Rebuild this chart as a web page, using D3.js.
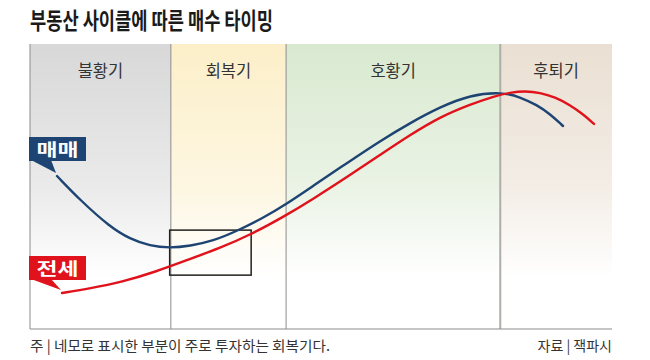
<!DOCTYPE html>
<html><head><meta charset="utf-8">
<script src="https://cdn.jsdelivr.net/npm/d3@7"></script>
<style>body{margin:0;background:#fff}svg{display:block}</style>
</head><body>
<script>
// ---- data ----
const title = "부동산 사이클에 따른 매수 타이밍";
const phases = ["불황기", "회복기", "호황기", "후퇴기"];
const phaseBounds = [0, 24.2, 44, 80.8, 100];
const phaseColors = ["#d8d8d8", "#fcefc9", "#d9e9d0", "#eadfd2"];
const saleT = [4.64, 8.59, 13.75, 17.18, 20.62, 24.05, 27.49, 31.44, 35.57, 40.03, 43.81, 48.63, 54.47, 60.14, 65.29, 70.45, 75.60, 81.10, 84.19, 87.11, 89.35, 91.58];
const saleV = [53.68, 45.26, 35.79, 31.58, 29.12, 28.42, 29.12, 30.88, 34.39, 38.95, 43.51, 50.18, 58.25, 65.96, 72.28, 77.89, 82.11, 83.16, 81.40, 78.60, 75.44, 71.23];
const leaseT = [5.50, 10.31, 15.81, 21.48, 27.49, 32.65, 37.80, 43.81, 48.63, 54.47, 60.14, 65.29, 70.45, 75.60, 79.90, 82.47, 85.05, 87.63, 90.21, 92.78, 95.02, 96.91];
const leaseV = [12.63, 14.21, 16.49, 20.00, 24.56, 28.42, 32.98, 39.65, 45.61, 53.33, 61.05, 68.07, 74.39, 78.77, 81.75, 82.95, 83.51, 82.96, 81.33, 78.60, 75.37, 71.96];
const seriesNames = ["매매", "전세"];
const boxT = [24.0, 38.0];
const boxV = [18.9, 34.7];
const note = "주 | 네모로 표시한 부분이 주로 투자하는 회복기다.";
const source = "자료 | 잭파시";

const W = 650, H = 360;
const m = {l: 30, r: 612, t: 44, b: 329};
const svg = d3.select("body").append("svg").attr("width", W).attr("height", H);
const font = "'Noto Sans CJK KR','Noto Sans',sans-serif";
const x = d3.scaleLinear().domain([0, 100]).range([m.l, m.r]);
const y = d3.scaleLinear().domain([0, 100]).range([m.b, m.t]);

const defs = svg.append("defs");
phaseColors.forEach((c, i) => {
  const g = defs.append("linearGradient").attr("id", "g" + i)
    .attr("x1", 0).attr("y1", 0).attr("x2", 0).attr("y2", 1);
  g.append("stop").attr("offset", "0%").attr("stop-color", c);
  g.append("stop").attr("offset", "50%").attr("stop-color", d3.interpolateRgb(c, "#fff")(0.45));
  g.append("stop").attr("offset", "82%").attr("stop-color", "#fff");
  g.append("stop").attr("offset", "100%").attr("stop-color", "#fff");
});

// phases
phases.forEach((p, i) => {
  svg.append("rect").attr("x", x(phaseBounds[i])).attr("y", m.t)
    .attr("width", x(phaseBounds[i + 1]) - x(phaseBounds[i])).attr("height", m.b - m.t)
    .attr("fill", `url(#g${i})`);
  svg.append("text").attr("x", (x(phaseBounds[i]) + x(phaseBounds[i + 1])) / 2).attr("y", 77)
    .attr("text-anchor", "middle").attr("font-family", font).attr("font-size", 16.5)
    .attr("fill", "#333").text(p);
});
// dividers
phaseBounds.slice(0, 4).forEach((b, i) => {
  svg.append("line").attr("x1", x(b)).attr("x2", x(b)).attr("y1", m.t).attr("y2", m.b)
    .attr("stroke", i === 3 ? "#b0aca8" : "#8c8c8c").attr("stroke-width", i === 3 ? 2 : 1);
});
svg.append("line").attr("x1", m.l).attr("x2", m.r).attr("y1", m.b).attr("y2", m.b)
  .attr("stroke", "#8c8c8c").attr("stroke-width", 1.2);

// box
svg.append("rect").attr("x", x(boxT[0])).attr("y", y(boxV[1]))
  .attr("width", x(boxT[1]) - x(boxT[0])).attr("height", y(boxV[0]) - y(boxV[1]))
  .attr("fill", "none").attr("stroke", "#231f1c").attr("stroke-width", 1.5);

const line = d3.line().x(d => x(d[0])).y(d => y(d[1])).curve(d3.curveBasis);
const sale = saleT.map((t, i) => [t, saleV[i]]);
const lease = leaseT.map((t, i) => [t, leaseV[i]]);
const colors = ["#1d4472", "#e0121b"];
[sale, lease].forEach((s, i) => {
  svg.append("path").attr("d", line(s)).attr("fill", "none")
    .attr("stroke", colors[i]).attr("stroke-width", 2.4).attr("stroke-linecap", "round");
});

// series labels with tails
[[sale, 137], [lease, 256]].forEach(([s, top], i) => {
  const g = svg.append("g");
  const bx = m.l - 1, bw = 57, bh = 24;
  g.append("rect").attr("x", bx).attr("y", top).attr("width", bw).attr("height", bh).attr("fill", colors[i]);
  const tip = [x(s[0][0]) - 1, y(s[0][1]) - 3];
  g.append("path").attr("d", `M${bx + 2},${top + bh - 1} L${bx + 22},${top + bh - 1} L${tip[0]},${tip[1]} Z`).attr("fill", colors[i]);
  g.append("text").attr("x", bx + bw / 2).attr("y", top + 18.5).attr("text-anchor", "middle")
    .attr("font-family", font).attr("font-weight", 700).attr("font-size", 17)
    .attr("fill", "#fff").attr("textLength", 42).attr("lengthAdjust", "spacingAndGlyphs").text(seriesNames[i]);
});

// title
svg.append("text").attr("x", 30).attr("y", 29).attr("font-family", font).attr("font-weight", 700)
  .attr("font-size", 23).attr("fill", "#1a1a1a").attr("textLength", 243)
  .attr("lengthAdjust", "spacingAndGlyphs").text(title);

// footer
svg.append("text").attr("x", 30).attr("y", 351).attr("font-family", font).attr("font-size", 14)
  .attr("fill", "#333").attr("textLength", 300).attr("lengthAdjust", "spacingAndGlyphs").text(note);
svg.append("text").attr("x", m.r).attr("y", 351).attr("text-anchor", "end").attr("font-family", font)
  .attr("font-size", 14).attr("fill", "#333").text(source);
</script>
</body></html>
